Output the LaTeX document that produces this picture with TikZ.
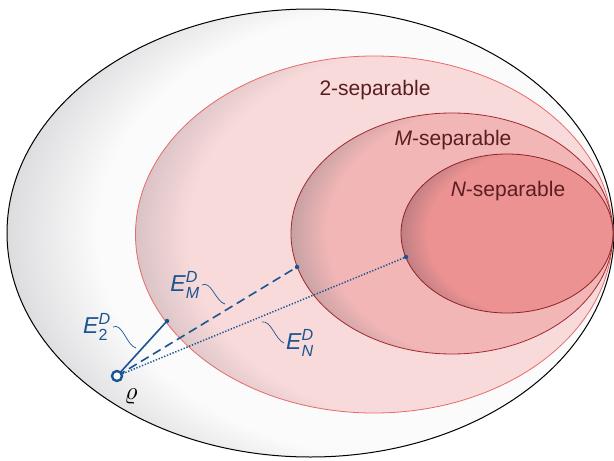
\documentclass[tikz,border=0pt]{standalone}
\usepackage{amsmath}
\usepackage{fontspec}
\setmainfont{Liberation Sans}
\usetikzlibrary{positioning}

\definecolor{vecblue}{HTML}{1A5592}
\definecolor{labeltext}{HTML}{5A1E22}
\definecolor{outerin}{HTML}{FBFBFC}
\definecolor{outerrim}{HTML}{DBDBDD}
\definecolor{twoin}{HTML}{F9DADA}
\definecolor{tworim}{HTML}{D8C2C5}
\definecolor{twoline}{HTML}{E86A6A}
\definecolor{mmin}{HTML}{F3B6B6}
\definecolor{mmrim}{HTML}{C4A0A3}
\definecolor{mmline}{HTML}{A3282C}
\definecolor{nnin}{HTML}{EC9292}
\definecolor{nnrim}{HTML}{BC7E82}
\definecolor{nnline}{HTML}{8E2226}

% bbox of the path is mapped to +-25bp; inner circle sits 15bp right of centre
\pgfdeclareradialshading{rimouter}{\pgfpoint{15bp}{0bp}}{color(0bp)=(outerin); color(25bp)=(outerin); color(31bp)=(outerrim); color(50bp)=(outerrim)}
\pgfdeclareradialshading{rimtwo}{\pgfpoint{15bp}{0bp}}{color(0bp)=(twoin); color(26.5bp)=(twoin); color(31bp)=(tworim); color(50bp)=(tworim)}
\pgfdeclareradialshading{rimmm}{\pgfpoint{15bp}{0bp}}{color(0bp)=(mmin); color(26.5bp)=(mmin); color(31bp)=(mmrim); color(50bp)=(mmrim)}
\pgfdeclareradialshading{rimnn}{\pgfpoint{15bp}{0bp}}{color(0bp)=(nnin); color(26bp)=(nnin); color(31bp)=(nnrim); color(50bp)=(nnrim)}

\begin{document}
\begin{tikzpicture}[
  x=1pt, y=-1pt,
  setlbl/.style={font=\fontsize{21}{24}\selectfont, text=labeltext},
  elbl/.style={font=\fontsize{23}{26}\selectfont, text=vecblue, inner sep=2pt},
  vec/.style={vecblue, line width=1.6pt},
  wig/.style={vecblue, line width=0.7pt},
  tip/.style={circle, fill=vecblue, inner sep=0pt, minimum size=4.5pt},
  rhoring/.style={circle, draw=vecblue, fill=white, line width=2.4pt, inner sep=0pt, minimum size=10pt}
]
\useasboundingbox (0,0) rectangle (614,461);
\fill[white] (0,0) rectangle (614,461);

% nested sets
\coordinate (cAll) at (310.5,233);
\coordinate (cTwo) at (374,234.5);
\coordinate (cM) at (452,233.5);
\coordinate (cN) at (507,233.5);
\shade[shading=rimouter] (cAll) ellipse [x radius=303.5, y radius=224];
\draw[line width=1pt] (cAll) ellipse [x radius=303.5, y radius=224];
\shade[shading=rimtwo] (cTwo) ellipse [x radius=238.5, y radius=178.5];
\draw[twoline, line width=0.8pt] (cTwo) ellipse [x radius=238.5, y radius=178.5];
\shade[shading=rimmm] (cM) ellipse [x radius=161, y radius=120.5];
\draw[mmline, line width=0.8pt] (cM) ellipse [x radius=161, y radius=120.5];
\shade[shading=rimnn] (cN) ellipse [x radius=106, y radius=79.5];
\draw[nnline, line width=0.8pt] (cN) ellipse [x radius=106, y radius=79.5];

\node[setlbl] (lTwo) at (375,90) {2-separable};
\node[setlbl] (lM) at (453,140) {\textit{M}-separable};
\node[setlbl] (lN) at (508,191) {\textit{N}-separable};

% distances from rho
\coordinate (rho) at (117,376);
\coordinate (p2) at (167,321);
\coordinate (pM) at (297,267);
\coordinate (pN) at (406,257);
\draw[vec] (rho) -- (p2);
\draw[vec, dash pattern=on 9pt off 5pt] (rho) -- (pM);
\draw[vec, line width=1.5pt, dash pattern=on 1.3pt off 1.7pt] (rho) -- (pN);
\node[tip] (t2) at (p2) {};
\node[tip] (tM) at (pM) {};
\node[tip] (tN) at (pN) {};
\node[rhoring] (rhoPt) at (rho) {};
\node (lRho) at (131,397) {\scalebox{2.5}{$\varrho$}};

\node[elbl] (lE2) at (97,327) {\textit{E}$^{\text{\itshape D}}_{\text{2}}$};
\node[elbl] (lEM) at (185,285) {\textit{E}$^{\text{\itshape D}}_{\text{\itshape M}}$};
\node[elbl] (lEN) at (300,343) {\textit{E}$^{\text{\itshape D}}_{\text{\itshape N}}$};
\coordinate (w2) at (136,348);
\coordinate (wM) at (225,304);
\coordinate (wN) at (262,322);
\draw[wig] (lE2.east) .. controls +(9,-5) and +(-9,-2) .. (w2);
\draw[wig] (lEM.east) .. controls +(9,-5) and +(-9,-2) .. (wM);
\draw[wig] (wN) .. controls +(9,-2) and +(-9,-4) .. (lEN.west);
\end{tikzpicture}
\end{document}
